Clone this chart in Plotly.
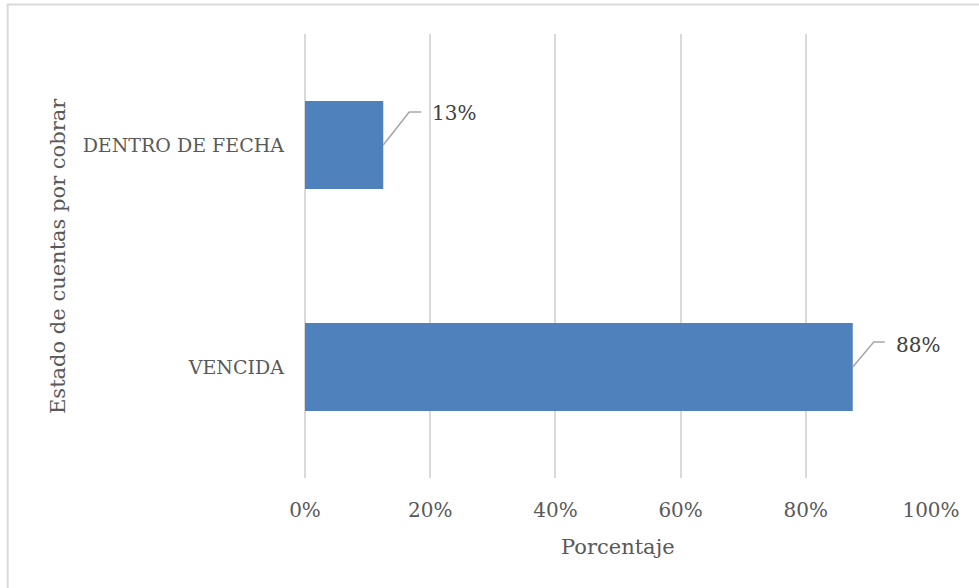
import plotly.graph_objects as go

categories = ["VENCIDA", "DENTRO DE FECHA"]
values = [87.5, 12.5]
value_labels = ["88%", "13%"]
x_ticks = [0, 20, 40, 60, 80, 100]
x_tick_labels = ["0%", "20%", "40%", "60%", "80%", "100%"]

FONT = "DejaVu Serif"
TXT = "#595959"
BAR = "#4f81bd"
GRID = "#d9d9d9"

fig = go.Figure()
fig.add_trace(go.Bar(
    y=categories, x=values, orientation="h",
    marker=dict(color=BAR, line=dict(width=0)),
    hoverinfo="skip",
))

# leader-line offsets (pixels) and label offsets per bar
leader = {"VENCIDA": (21, 25, 32), "DENTRO DE FECHA": (26, 33, 38)}
label_shift = {"VENCIDA": (41, 22), "DENTRO DE FECHA": (47, 32)}

for cat, val, lab in zip(categories, values, value_labels):
    dx, dy, hx = leader[cat]
    fig.add_shape(
        type="path", xref="x", yref="y",
        xsizemode="pixel", ysizemode="pixel",
        xanchor=val, yanchor=cat,
        path=f"M 0 0 L {dx} {dy} L {hx} {dy}",
        line=dict(color="#a6a6a6", width=1.5),
    )
    sx, sy = label_shift[cat]
    fig.add_annotation(
        x=val, y=cat, xref="x", yref="y", text=lab, showarrow=False,
        xanchor="left", yanchor="middle", xshift=sx, yshift=sy,
        font=dict(family=FONT, size=20, color="#404040"),
    )

# outer chart border (only top/left visible in the crop)
fig.add_shape(
    type="rect", xref="paper", yref="paper",
    x0=-0.475, x1=1.09, y0=-0.27, y1=1.0665,
    line=dict(color=GRID, width=2), fillcolor="rgba(0,0,0,0)", layer="below",
)

fig.add_annotation(
    text="Estado de cuentas por cobrar", xref="paper", yref="paper",
    x=-0.3946, y=0.5, showarrow=False, textangle=-90,
    xanchor="center", yanchor="middle",
    font=dict(family=FONT, size=21, color=TXT),
)
fig.add_annotation(
    text="Porcentaje", xref="paper", yref="paper",
    x=0.5, y=-0.155, showarrow=False,
    xanchor="center", yanchor="middle",
    font=dict(family=FONT, size=21, color=TXT),
)

fig.update_layout(
    width=979, height=588, autosize=False,
    margin=dict(l=305, r=48, t=34, b=110),
    paper_bgcolor="white", plot_bgcolor="white",
    bargap=0.604, showlegend=False,
    xaxis=dict(
        range=[0, 100], tickmode="array", tickvals=x_ticks, ticktext=x_tick_labels,
        showgrid=True, gridcolor=GRID, gridwidth=2,
        zeroline=True, zerolinecolor=GRID, zerolinewidth=2, showline=False,
        ticks="", ticklabelstandoff=18,
        tickfont=dict(family=FONT, size=20, color=TXT), automargin=False,
    ),
    yaxis=dict(
        categoryorder="array", categoryarray=categories,
        showgrid=False, zeroline=False, showline=False, ticks="",
        ticklabelstandoff=20,
        tickfont=dict(family=FONT, size=19, color=TXT), automargin=False,
    ),
)

fig.write_html(
    "out.html",
    config={"displayModeBar": False},
    post_script="document.body.style.margin='0px';document.body.style.overflow='hidden';",
)
